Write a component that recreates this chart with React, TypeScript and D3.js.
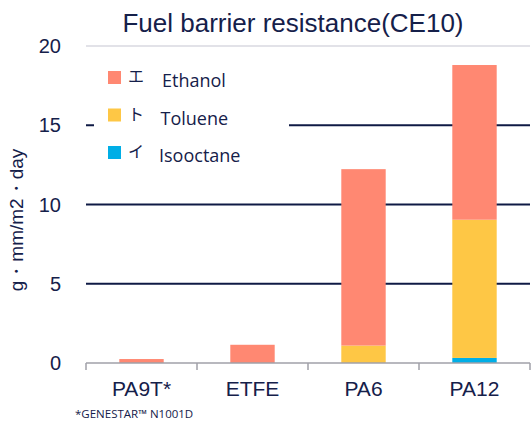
import React from "react";
import * as d3 from "d3";

const categories = ["PA9T*", "ETFE", "PA6", "PA12"];
const seriesNames = ["Isooctane", "Toluene", "Ethanol"];
const isooctane = [0, 0, 0, 0.32];
const toluene = [0, 0, 1.1, 8.72];
const ethanol = [0.25, 1.15, 11.13, 9.76];
const yTicks = [0, 5, 10, 15, 20];
const legendItems = [
  { key: "Ethanol", kana: "エ" },
  { key: "Toluene", kana: "ト" },
  { key: "Isooctane", kana: "イ" },
];
const colors: Record<string, string> = {
  Ethanol: "#FF8872",
  Toluene: "#FEC745",
  Isooctane: "#00AEE6",
};

const W = 532, H = 424;
const left = 86, right = 530, top = 46, bottom = 363;
const textColor = "#15204a";

export default function App() {
  const x = d3.scaleBand().domain(categories).range([left, right]).paddingInner(0.6).paddingOuter(0.3);
  const y = d3.scaleLinear().domain([0, 20]).range([bottom, top]);
  const table = categories.map((c, i) => ({
    cat: c,
    Isooctane: isooctane[i],
    Toluene: toluene[i],
    Ethanol: ethanol[i],
  }));
  const stacked = d3.stack<any>().keys(seriesNames)(table);
  const bandEdges = d3.scaleBand().domain(categories).range([left, right]);
  const edges = [...categories.map((c) => bandEdges(c)!), right];

  return (
    <svg width={W} height={H} style={{ position: "absolute", left: 0, top: 0, background: "#fff" }}>
      <text x={293} y={32} textAnchor="middle" fontFamily="Liberation Sans, Arial" fontSize={26} fill={textColor}>
        Fuel barrier resistance(CE10)
      </text>
      {yTicks.map((t) =>
        t === 0 ? null : (
          <line key={t} x1={left} x2={right} y1={y(t)} y2={y(t)}
            stroke={t === 20 ? "#d8d8e0" : "#0f1a45"} strokeWidth={t === 20 ? 1.5 : 2} />
        )
      )}
      {yTicks.map((t) => (
        <text key={"l" + t} x={61} y={y(t) + 7} textAnchor="end" fontFamily="Liberation Sans, Arial" fontSize={20} fill={textColor}>
          {t}
        </text>
      ))}
      <text transform={`translate(23,${220}) rotate(-90)`} textAnchor="middle" fontFamily="Liberation Sans, Arial" fontSize={19} fill={textColor}>
        g・mm/m2・day
      </text>
      {/* legend background covering gridline */}
      <rect x={94} y={60} width={195} height={110} fill="#fff" />
      {legendItems.map((it, i) => {
        const sy = 71 + i * 37.5;
        return (
          <g key={it.key}>
            <rect x={108} y={sy} width={13} height={13} fill={colors[it.key]} />
            <text x={128} y={sy + 11} fontFamily="Noto Sans CJK JP" fontSize={16} fill={textColor}>{it.kana}</text>
            <text x={162 - i * 1.5} y={sy + 16} fontFamily="Open Sans, Noto Sans" fontSize={18} fill={textColor}>{it.key}</text>
          </g>
        );
      })}
      {stacked.map((s) => (
        <g key={s.key} fill={colors[s.key]}>
          {s.map((d, i) => (
            d[1] - d[0] > 0 ? (
              <rect key={i} x={x(categories[i])} width={x.bandwidth()} y={y(d[1])} height={y(d[0]) - y(d[1])} />
            ) : null
          ))}
        </g>
      ))}
      <line x1={left} x2={right} y1={bottom} y2={bottom} stroke="#a0a0a8" strokeWidth={1.5} />
      {edges.map((e, i) => (
        <line key={i} x1={e} x2={e} y1={bottom} y2={bottom + 7} stroke="#a0a0a8" strokeWidth={1.5} />
      ))}
      {categories.map((c) => (
        <text key={c} x={bandEdges(c)! + bandEdges.bandwidth() / 2} y={396} textAnchor="middle" fontFamily="Liberation Sans, Arial" fontSize={21} fill={textColor}>
          {c}
        </text>
      ))}
      <text x={75} y={418} fontFamily="Open Sans, Noto Sans" fontSize={11.5} fill={textColor}>*GENESTAR™ N1001D</text>
    </svg>
  );
}
